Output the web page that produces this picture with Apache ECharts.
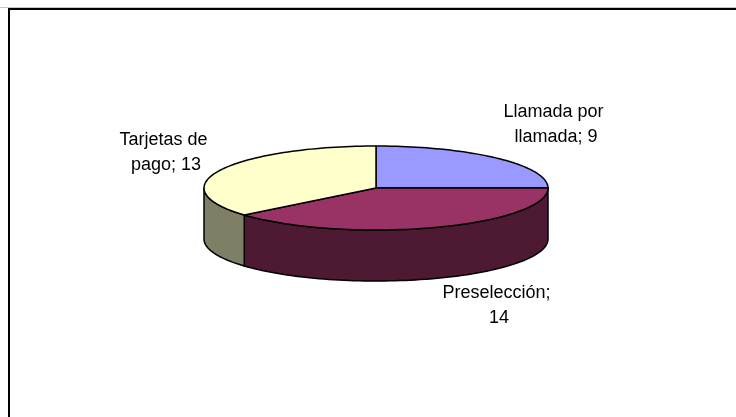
<!DOCTYPE html>
<html>
<head>
<meta charset="utf-8">
<script src="https://cdn.jsdelivr.net/npm/echarts@6/dist/echarts.min.js"></script>
<style>
  html, body { margin: 0; padding: 0; background: #fff; }
  #main { width: 736px; height: 417px; }
</style>
</head>
<body>
<div id="main"></div>
<script>
// slice data, clockwise from 12 o'clock
const names = ["Llamada por llamada", "Preselección", "Tarjetas de pago"];
const values = [9, 14, 13];

const topColors = ["#9999FF", "#993366", "#FFFFCC"];
const sideColors = ["#4D4D80", "#4D1933", "#7F7F66"];
// label centres in pixels
const labelPos = [[556, 125], [499, 306], [166, 153]];

const total = values.reduce((a, b) => a + b, 0);
const depth = 51 / 42; // wall height in y units (ry = 1)
const font = '18px "Liberation Sans", Arial, sans-serif';

function sliceAngles(i) {
  let before = 0;
  for (let k = 0; k < i; k++) before += values[k];
  const c0 = (before / total) * Math.PI * 2;
  const c1 = ((before + values[i]) / total) * Math.PI * 2;
  // math angles, going clockwise = decreasing
  return [Math.PI / 2 - c0, Math.PI / 2 - c1];
}

function arc(api, from, to, drop) {
  const pts = [];
  const n = Math.max(2, Math.ceil(Math.abs(to - from) / 0.03));
  for (let s = 0; s <= n; s++) {
    const t = from + ((to - from) * s) / n;
    pts.push(api.coord([Math.cos(t), Math.sin(t) - drop]));
  }
  return pts;
}

function renderWall(params, api) {
  const i = params.dataIndex;
  const [a0, a1] = sliceAngles(i); // a1 < a0
  const children = [];
  // front half of the ellipse: angles in [-PI + 2PIk, 2PIk]
  for (let k = -1; k <= 1; k++) {
    const lo = Math.max(a1, -Math.PI + 2 * Math.PI * k);
    const hi = Math.min(a0, 2 * Math.PI * k);
    if (hi - lo < 1e-6) continue;
    const top = arc(api, hi, lo, 0);
    const bottom = arc(api, lo, hi, depth);
    children.push({
      type: "polygon",
      shape: { points: top.concat(bottom) },
      style: { fill: sideColors[i], stroke: "#000", lineWidth: 1.5, lineJoin: "round" },
    });
  }
  return { type: "group", children: children };
}

function renderTop(params, api) {
  const i = params.dataIndex;
  const [a0, a1] = sliceAngles(i);
  const pts = [api.coord([0, 0])].concat(arc(api, a0, a1, 0));
  return {
    type: "group",
    children: [
      {
        type: "polygon",
        shape: { points: pts },
        style: { fill: topColors[i], stroke: "#000", lineWidth: 1.5, lineJoin: "round" },
      },
      {
        type: "text",
        x: labelPos[i][0],
        y: labelPos[i][1],
        style: {
          text: names[i] + "; " + values[i],
          fill: "#000",
          font: font,
          align: "center",
          verticalAlign: "middle",
          width: 122,
          overflow: "break",
          lineHeight: 25,
        },
      },
    ],
  };
}

const seriesData = values.map((v, i) => [i, v]);

let option = {
  animation: false,
  grid: { left: 204, top: 146, width: 344, height: 84 },
  xAxis: { type: "value", min: -1, max: 1, show: false },
  yAxis: { type: "value", min: -1, max: 1, show: false },
  graphic: [
    { type: "line", shape: { x1: 0, y1: 7.5, x2: 736, y2: 7.5 }, style: { stroke: "#c8c8c8", lineWidth: 1 } },
    { type: "line", shape: { x1: 8, y1: 9, x2: 736, y2: 9 }, style: { stroke: "#000", lineWidth: 2 } },
    { type: "line", shape: { x1: 9, y1: 8, x2: 9, y2: 417 }, style: { stroke: "#000", lineWidth: 2 } },
  ],
  series: [
    { type: "custom", renderItem: renderWall, data: seriesData, clip: false, silent: true },
    { type: "custom", renderItem: renderTop, data: seriesData, clip: false, silent: true },
  ],
};

var myChart = echarts.init(document.getElementById("main"));
myChart.setOption(option);
</script>
</body>
</html>
